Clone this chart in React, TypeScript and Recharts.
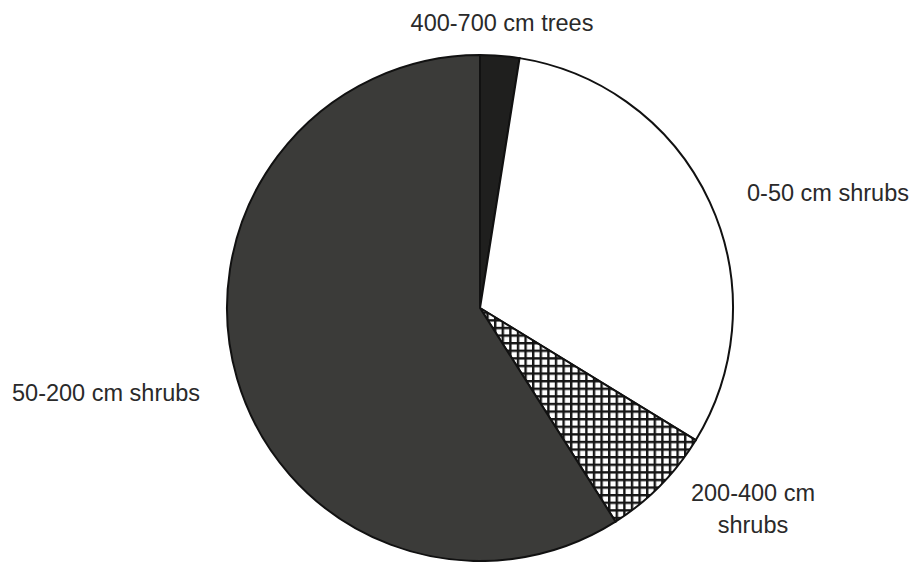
import { PieChart, Pie, Cell } from "recharts";

const CATEGORIES = ["400-700 cm trees", "0-50 cm shrubs", "200-400 cm shrubs", "50-200 cm shrubs"];
const SHARES = [2.5, 31.25, 7.25, 59];
const LABEL_LINES = [["400-700 cm trees"], ["0-50 cm shrubs"], ["200-400 cm", "shrubs"], ["50-200 cm shrubs"]];

const FILLS = ["#1f1f1e", "#ffffff", "url(#crosshatch)", "#3b3b39"];
// label anchor spots (x, y, text-anchor)
const LABEL_POS: [number, number, "start" | "middle" | "end"][] = [
  [502, 23, "middle"],
  [747, 193, "start"],
  [753, 493, "middle"],
  [12, 393, "start"],
];

const data = CATEGORIES.map((name, i) => ({ name, value: SHARES[i] }));

function renderLabel(props: any) {
  const i = props.index;
  const [x, y, anchor] = LABEL_POS[i];
  return (
    <text
      key={`lbl-${i}`}
      x={x}
      y={y}
      textAnchor={anchor}
      dominantBaseline="central"
      fill="#2a2a2a"
      fontSize={23.5}
      fontFamily="'Liberation Sans', Arial, sans-serif"
    >
      {LABEL_LINES[i].map((line, j) => (
        <tspan key={j} x={x} dy={j === 0 ? 0 : 32}>
          {line}
        </tspan>
      ))}
    </text>
  );
}

export default function App() {
  return (
    <div style={{ position: "absolute", left: 0, top: 0, width: 915, height: 562, background: "#fff" }}>
      <PieChart width={915} height={562} margin={{ top: 0, right: 0, bottom: 0, left: 0 }}>
        <defs>
          <pattern id="crosshatch" width={7.6} height={7.6} patternUnits="userSpaceOnUse">
            <rect width={7.6} height={7.6} fill="#ffffff" />
            <rect x={0} y={0} width={7.6} height={2.4} fill="#151515" />
            <rect x={0} y={0} width={2.4} height={7.6} fill="#151515" />
          </pattern>
        </defs>
        <Pie
          data={data}
          dataKey="value"
          nameKey="name"
          cx={480}
          cy={308}
          outerRadius={253}
          startAngle={90}
          endAngle={-270}
          stroke="#111"
          strokeWidth={2}
          label={renderLabel}
          labelLine={false}
          isAnimationActive={false}
        >
          {data.map((entry, index) => (
            <Cell key={`cell-${index}`} fill={FILLS[index]} />
          ))}
        </Pie>
      </PieChart>
    </div>
  );
}
